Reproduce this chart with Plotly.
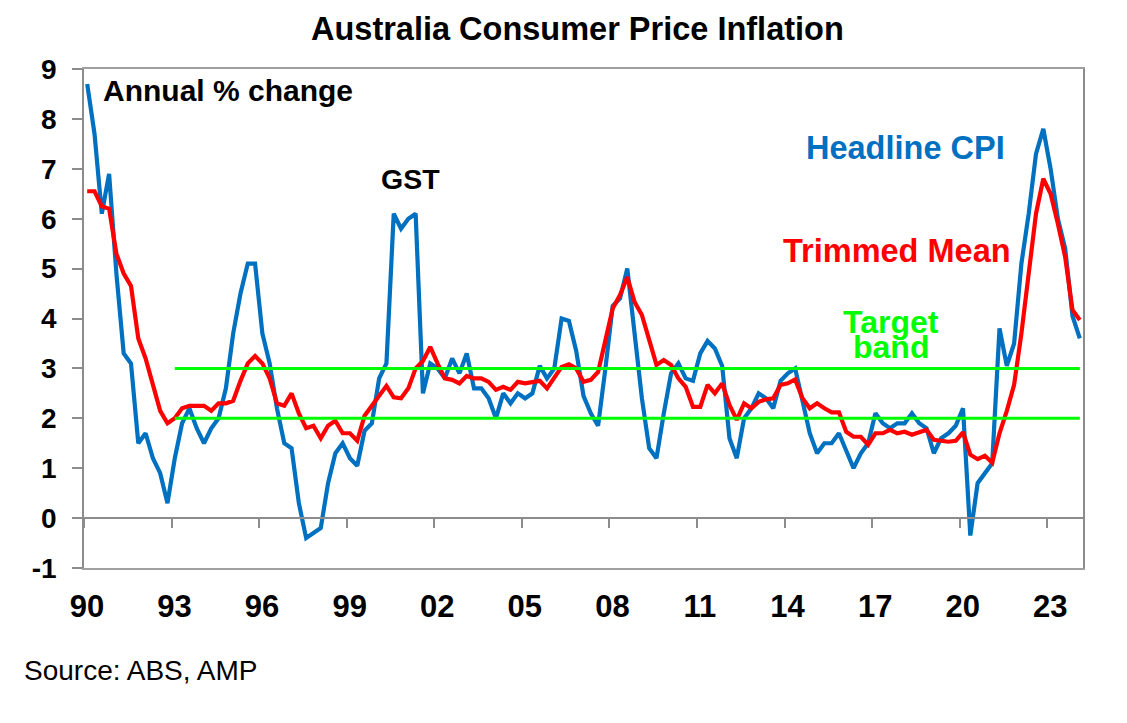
import plotly.graph_objects as go

# Quarterly data, Mar-1990 .. Mar-2024 (annual % change)
start_year = 1990
headline_cpi = [
    8.7, 7.7, 6.1, 6.9,   # 1990
    4.9, 3.3, 3.1, 1.5,   # 1991
    1.7, 1.2, 0.9, 0.3,   # 1992
    1.2, 1.9, 2.2, 1.8,   # 1993
    1.5, 1.8, 2.0, 2.6,   # 1994
    3.7, 4.5, 5.1, 5.1,   # 1995
    3.7, 3.1, 2.2, 1.5,   # 1996
    1.4, 0.3, -0.4, -0.3, # 1997
    -0.2, 0.7, 1.3, 1.5,  # 1998
    1.2, 1.05, 1.75, 1.9, # 1999
    2.8, 3.1, 6.1, 5.8,   # 2000
    6.0, 6.1, 2.5, 3.1,   # 2001
    3.0, 2.8, 3.2, 2.9,   # 2002
    3.3, 2.6, 2.6, 2.4,   # 2003
    2.0, 2.5, 2.3, 2.5,   # 2004
    2.4, 2.5, 3.05, 2.8,  # 2005
    3.0, 4.0, 3.95, 3.35, # 2006
    2.45, 2.1, 1.85, 3.0, # 2007
    4.25, 4.4, 5.0, 3.7,  # 2008
    2.4, 1.4, 1.2, 2.1,   # 2009
    2.9, 3.1, 2.8, 2.75,  # 2010
    3.3, 3.55, 3.4, 3.05, # 2011
    1.6, 1.2, 2.0, 2.2,   # 2012
    2.5, 2.4, 2.2, 2.75,  # 2013
    2.9, 3.0, 2.3, 1.7,   # 2014
    1.3, 1.5, 1.5, 1.7,   # 2015
    1.35, 1.0, 1.3, 1.5,  # 2016
    2.1, 1.9, 1.8, 1.9,   # 2017
    1.9, 2.1, 1.9, 1.8,   # 2018
    1.3, 1.6, 1.7, 1.85,  # 2019
    2.2, -0.35, 0.7, 0.9, # 2020
    1.1, 3.8, 3.05, 3.5,  # 2021
    5.1, 6.1, 7.3, 7.8,   # 2022
    7.0, 6.0, 5.4, 4.05,  # 2023
    3.6,                  # 2024
]
trimmed_mean = [
    6.55, 6.55, 6.25, 6.2,  # 1990
    5.3, 4.9, 4.65, 3.6,    # 1991
    3.2, 2.7, 2.15, 1.9,    # 1992
    2.0, 2.2, 2.25, 2.25,   # 1993
    2.25, 2.15, 2.3, 2.3,   # 1994
    2.35, 2.75, 3.1, 3.25,  # 1995
    3.1, 2.8, 2.3, 2.25,    # 1996
    2.5, 2.1, 1.8, 1.85,    # 1997
    1.6, 1.85, 1.95, 1.7,   # 1998
    1.7, 1.55, 2.05, 2.25,  # 1999
    2.45, 2.65, 2.42, 2.4,  # 2000
    2.6, 3.0, 3.15, 3.43,   # 2001
    3.1, 2.8, 2.77, 2.7,    # 2002
    2.85, 2.8, 2.8, 2.73,   # 2003
    2.57, 2.63, 2.57, 2.73, # 2004
    2.7, 2.73, 2.75, 2.6,   # 2005
    2.83, 3.03, 3.08, 3.0,  # 2006
    2.73, 2.77, 2.93, 3.57, # 2007
    4.2, 4.47, 4.83, 4.33,  # 2008
    4.07, 3.57, 3.07, 3.17, # 2009
    3.07, 2.8, 2.63, 2.23,  # 2010
    2.23, 2.67, 2.5, 2.7,   # 2011
    2.27, 1.97, 2.3, 2.2,   # 2012
    2.33, 2.38, 2.4, 2.67,  # 2013
    2.7, 2.78, 2.4, 2.2,    # 2014
    2.3, 2.2, 2.12, 2.12,   # 2015
    1.73, 1.63, 1.63, 1.47, # 2016
    1.7, 1.7, 1.77, 1.7,    # 2017
    1.73, 1.67, 1.72, 1.77, # 2018
    1.57, 1.55, 1.53, 1.55, # 2019
    1.72, 1.27, 1.18, 1.25, # 2020
    1.11, 1.7, 2.15, 2.67,  # 2021
    3.7, 4.9, 6.1, 6.8,     # 2022
    6.5, 5.9, 5.23, 4.17,   # 2023
    3.97,                   # 2024
]
target_low = 2.0
target_high = 3.0
target_start_index = 12  # Mar-1993
tick_years = list(range(1990, 2024, 3))
tick_labels = [f"{y % 100:02d}" for y in tick_years]
y_ticks = list(range(-1, 10))
y_tick_labels = [str(v) for v in y_ticks]

BLUE = "#0070C0"
RED = "#FF0000"
GREEN = "#00FF00"
FONT = "Liberation Sans, Arial, sans-serif"

n = len(headline_cpi)
x = [start_year + 0.11 + i * 0.25 for i in range(n)]
x_target = x[target_start_index:]

fig = go.Figure()
fig.add_trace(go.Scatter(x=x, y=headline_cpi, mode="lines",
                         line=dict(color=BLUE, width=4.2), name="Headline CPI"))
fig.add_trace(go.Scatter(x=x, y=trimmed_mean, mode="lines",
                         line=dict(color=RED, width=4.2), name="Trimmed Mean"))
fig.add_trace(go.Scatter(x=x_target, y=[target_low] * len(x_target), mode="lines",
                         line=dict(color=GREEN, width=3), name="Target low", xaxis="x2"))
fig.add_trace(go.Scatter(x=x_target, y=[target_high] * len(x_target), mode="lines",
                         line=dict(color=GREEN, width=3), name="Target high", xaxis="x2"))

xrange = [1990.0, 2024.22]

# the page body adds an 8px offset, so the figure is sized/margined to compensate
fig.update_layout(
    width=1119, height=715,
    margin=dict(l=76, r=44, t=61, b=155),
    paper_bgcolor="white", plot_bgcolor="white",
    showlegend=False,
    font=dict(family=FONT, color="black"),
    xaxis=dict(
        range=xrange, showgrid=False, zeroline=False,
        tickmode="array", tickvals=[t + 0.1 for t in tick_years], ticktext=tick_labels,
        ticks="", showline=True, linecolor="#A0A0A0", linewidth=1.5, mirror=True,
        tickfont=dict(size=31, family=FONT, weight="bold", color="black"),
        ticklabelstandoff=10,
    ),
    xaxis2=dict(
        range=xrange, overlaying="x", anchor="free", position=0.1,
        showgrid=False, zeroline=False, showticklabels=False,
        tickmode="array", tickvals=tick_years,
        ticks="outside", ticklen=9, tickcolor="#8C8C8C", tickwidth=1.5,
        showline=True, linecolor="#8C8C8C", linewidth=1.5,
    ),
    yaxis=dict(
        range=[-1, 9], tickmode="array", tickvals=y_ticks, ticktext=y_tick_labels,
        showgrid=False, zeroline=False,
        ticks="outside", ticklen=10, tickcolor="#8C8C8C", tickwidth=1.5,
        showline=True, linecolor="#8C8C8C", linewidth=1.5, mirror=True,
        tickfont=dict(size=28, family=FONT, weight="bold", color="black"),
        ticklabelstandoff=10,
    ),
)

def px_x(p):
    return (p - 84) / 999.0

def px_y(p):
    return (568 - p) / 499.0

annos = [
    dict(text="Australia Consumer Price Inflation", x=px_x(577), y=px_y(29), size=32.5, color="black", xanchor="center", bold=True),
    dict(text="Annual % change", x=px_x(101), y=px_y(90), size=30, color="black", xanchor="left", bold=True),
    dict(text="GST", x=px_x(410), y=px_y(179), size=28.5, color="black", xanchor="center", bold=True),
    dict(text="Headline CPI", x=px_x(905), y=px_y(147.5), size=32.5, color=BLUE, xanchor="center", bold=True),
    dict(text="Trimmed Mean", x=px_x(897), y=px_y(251), size=32.5, color=RED, xanchor="center", bold=True),
    dict(text="Target", x=px_x(890.7), y=px_y(322), size=32, color=GREEN, xanchor="center", bold=True),
    dict(text="band", x=px_x(891), y=px_y(347), size=32, color=GREEN, xanchor="center", bold=True),
    dict(text="Source: ABS, AMP", x=px_x(22), y=px_y(670), size=28, color="black", xanchor="left", bold=False),
]
for a in annos:
    fig.add_annotation(
        text=a["text"], x=a["x"], y=a["y"], xref="paper", yref="paper",
        xanchor=a["xanchor"], yanchor="middle", showarrow=False,
        font=dict(size=a["size"], color=a["color"], family=FONT,
                  weight="bold" if a["bold"] else "normal"),
    )

fig.write_html("out.html")
